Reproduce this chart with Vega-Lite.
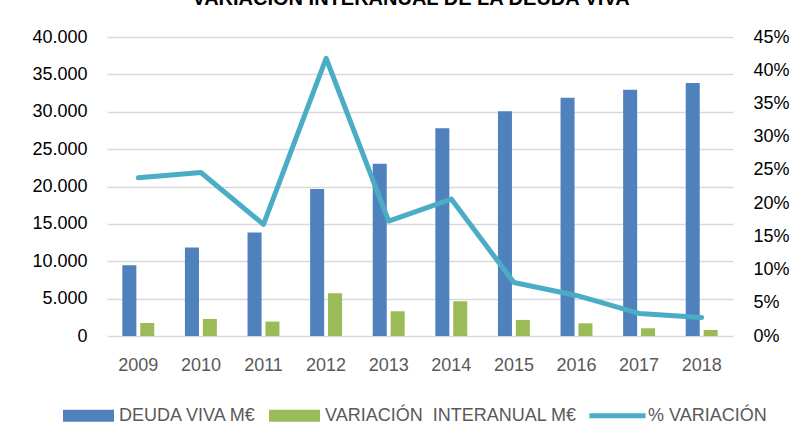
{
  "$schema": "https://vega.github.io/schema/vega-lite/v6.json",
  "autosize": "none",
  "width": 626,
  "height": 299,
  "padding": {"left": 107, "top": 37, "right": 61, "bottom": 109},
  "background": "white",
  "title": {
    "text": "VARIACIÓN INTERANUAL DE LA DEUDA VIVA",
    "font": "Liberation Sans",
    "fontSize": 20,
    "fontWeight": "bold",
    "color": "#000000",
    "anchor": "middle",
    "dx": -9,
    "offset": 19
  },
  "datasets": {
    "bars": [
      {"year": "2009", "serie": "DEUDA VIVA M€", "valor": 9480},
      {"year": "2010", "serie": "DEUDA VIVA M€", "valor": 11850},
      {"year": "2011", "serie": "DEUDA VIVA M€", "valor": 13860},
      {"year": "2012", "serie": "DEUDA VIVA M€", "valor": 19670},
      {"year": "2013", "serie": "DEUDA VIVA M€", "valor": 23060},
      {"year": "2014", "serie": "DEUDA VIVA M€", "valor": 27800},
      {"year": "2015", "serie": "DEUDA VIVA M€", "valor": 30080},
      {"year": "2016", "serie": "DEUDA VIVA M€", "valor": 31860},
      {"year": "2017", "serie": "DEUDA VIVA M€", "valor": 32940},
      {"year": "2018", "serie": "DEUDA VIVA M€", "valor": 33830},
      {"year": "2009", "serie": "VARIACIÓN  INTERANUAL M€", "valor": 1740},
      {"year": "2010", "serie": "VARIACIÓN  INTERANUAL M€", "valor": 2280},
      {"year": "2011", "serie": "VARIACIÓN  INTERANUAL M€", "valor": 1930},
      {"year": "2012", "serie": "VARIACIÓN  INTERANUAL M€", "valor": 5720},
      {"year": "2013", "serie": "VARIACIÓN  INTERANUAL M€", "valor": 3310},
      {"year": "2014", "serie": "VARIACIÓN  INTERANUAL M€", "valor": 4650},
      {"year": "2015", "serie": "VARIACIÓN  INTERANUAL M€", "valor": 2150},
      {"year": "2016", "serie": "VARIACIÓN  INTERANUAL M€", "valor": 1700},
      {"year": "2017", "serie": "VARIACIÓN  INTERANUAL M€", "valor": 1030},
      {"year": "2018", "serie": "VARIACIÓN  INTERANUAL M€", "valor": 800}
    ],
    "pct": [
      {"year": "2009", "pct": 0.238},
      {"year": "2010", "pct": 0.246},
      {"year": "2011", "pct": 0.168},
      {"year": "2012", "pct": 0.418},
      {"year": "2013", "pct": 0.173},
      {"year": "2014", "pct": 0.206},
      {"year": "2015", "pct": 0.0805},
      {"year": "2016", "pct": 0.061},
      {"year": "2017", "pct": 0.034},
      {"year": "2018", "pct": 0.028}
    ]
  },
  "layer": [
    {
      "data": {"name": "bars"},
      "mark": {"type": "bar"},
      "encoding": {
        "x": {
          "field": "year", "type": "nominal",
          "scale": {"paddingInner": 0.49, "paddingOuter": 0.245},
          "axis": {
            "title": null, "labelAngle": 0, "domain": false, "ticks": false,
            "labelPadding": 20, "labelFont": "Liberation Sans", "labelFontSize": 18,
            "labelColor": "#595959", "grid": false
          }
        },
        "xOffset": {
          "field": "serie", "type": "nominal",
          "sort": ["DEUDA VIVA M€", "VARIACIÓN  INTERANUAL M€"],
          "scale": {"paddingInner": 0.217, "paddingOuter": 0}
        },
        "y": {
          "field": "valor", "type": "quantitative",
          "scale": {"domain": [0, 40000], "nice": false},
          "axis": {
            "title": null, "values": [0, 5000, 10000, 15000, 20000, 25000, 30000, 35000, 40000],
            "format": ",.0f", "domain": false, "ticks": false, "labelPadding": 20,
            "labelFont": "Liberation Sans", "labelFontSize": 18, "labelColor": "#000000",
            "grid": true, "gridColor": "#D9D9D9", "gridWidth": 1.3
          }
        },
        "color": {
          "field": "serie", "type": "nominal",
          "scale": {
            "domain": ["DEUDA VIVA M€", "VARIACIÓN  INTERANUAL M€", "% VARIACIÓN"],
            "range": ["#4F81BD", "#9BBB59", "#4BACC6"]
          },
          "legend": {
            "title": null,
            "orient": "none",
            "legendX": -44,
            "legendY": 353,
            "direction": "horizontal",
            "columns": 3,
            "labelFont": "Liberation Sans",
            "labelFontSize": 18,
            "labelColor": "#595959",
            "labelLimit": 400,
            "labelOffset": 5,
            "columnPadding": 12,
            "symbolSize": 2601,
            "labelExpr": "replace(datum.label, '  ', '\u00a0 ')",
            "encode": {
              "symbols": {
                "update": {
                  "shape": {"signal": "datum.value === '% VARIACIÓN' ? 'M-1.1,-0.1H1.1V0.1H-1.1Z' : 'M-1,-0.235H1V0.235H-1Z'"},
                  "fill": {"scale": "color", "field": "value"},
                  "fillOpacity": {"value": 1},
                  "strokeWidth": {"value": 0}
                }
              }
            }
          }
        }
      }
    },
    {
      "data": {"name": "pct"},
      "mark": {"type": "line", "strokeWidth": 5, "strokeJoin": "round", "strokeCap": "round"},
      "encoding": {
        "x": {"field": "year", "type": "nominal"},
        "y": {
          "field": "pct", "type": "quantitative",
          "scale": {"domain": [0, 0.45], "nice": false},
          "axis": {
            "title": null, "orient": "right",
            "values": [0, 0.05, 0.1, 0.15, 0.2, 0.25, 0.3, 0.35, 0.4, 0.45],
            "format": ".0%", "domain": false, "ticks": false, "labelPadding": 20,
            "labelFont": "Liberation Sans", "labelFontSize": 18, "labelColor": "#000000",
            "grid": false
          }
        },
        "color": {"datum": "% VARIACIÓN"}
      }
    }
  ],
  "resolve": {"scale": {"y": "independent"}},
  "config": {
    "view": {"stroke": null},
    "locale": {
      "number": {"decimal": ",", "thousands": ".", "grouping": [3], "currency": ["", " €"]}
    }
  }
}
